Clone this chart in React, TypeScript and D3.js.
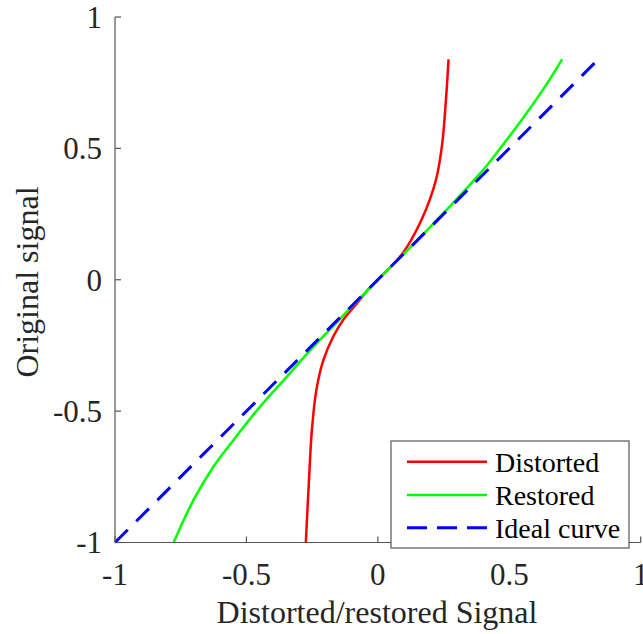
import React from "react";
import * as d3 from "d3";

// Original signal values (vertical axis) and the distorted response at each
const distortedX = [-0.274, -0.262, -0.251, -0.234, -0.207, -0.170, -0.132, -0.084, -0.042, 0, 0.040, 0.060, 0.094, 0.126, 0.160, 0.196, 0.224, 0.245, 0.259, 0.269];
const distortedY = [-1.0, -0.762, -0.572, -0.420, -0.305, -0.217, -0.153, -0.095, -0.043, 0, 0.040, 0.060, 0.100, 0.150, 0.215, 0.300, 0.392, 0.519, 0.684, 0.839];

// Restored signal after correction
const restoredX = [-0.777, -0.701, -0.625, -0.549, -0.448, -0.346, -0.256, -0.160, -0.062, 0, 0.060, 0.150, 0.237, 0.320, 0.401, 0.480, 0.565, 0.636, 0.701];
const restoredY = [-1.0, -0.838, -0.711, -0.610, -0.483, -0.369, -0.267, -0.166, -0.064, 0, 0.060, 0.150, 0.240, 0.329, 0.418, 0.519, 0.633, 0.735, 0.839];

// Ideal (identity) response
const idealX = [-1.0, 0.84];
const idealY = [-1.0, 0.84];

const xTicks = [-1, -0.5, 0, 0.5, 1];
const yTicks = [-1, -0.5, 0, 0.5, 1];
const tickLabels = ["-1", "-0.5", "0", "0.5", "1"];

const seriesNames = ["Distorted", "Restored", "Ideal curve"];
const seriesColors = ["#ff0000", "#00ff00", "#0000ff"];

const FONT = '"Liberation Serif", "Times New Roman", serif';

export default function App() {
  const width = 643;
  const height = 634;
  const x = d3.scaleLinear().domain([-1, 1]).range([115, 640.7]);
  const y = d3.scaleLinear().domain([-1, 1]).range([542.5, 17]);

  const line = d3
    .line<[number, number]>()
    .x((d) => x(d[0]))
    .y((d) => y(d[1]))
    .curve(d3.curveCatmullRom.alpha(0.5));

  const zip = (a: number[], b: number[]) => a.map((v, i) => [v, b[i]] as [number, number]);

  const series = [
    { pts: zip(distortedX, distortedY), dash: undefined as string | undefined, w: 2.5 },
    { pts: zip(restoredX, restoredY), dash: undefined as string | undefined, w: 2.5 },
    { pts: zip(idealX, idealY), dash: "18,12", w: 3 },
  ];

  const axisColor = "#555";
  const tickLen = 6;

  const legend = { x0: 391, y0: 441, x1: 629, y1: 548 };
  const rowYs = [461.7, 495, 527.7];

  return (
    <svg width={width} height={height} style={{ position: "absolute", left: 0, top: 0, background: "#fff" }}>
      <rect x={0} y={0} width={width} height={height} fill="#fff" />
      {series.map((s, i) => (
        <path
          key={i}
          d={line(s.pts) || ""}
          fill="none"
          stroke={seriesColors[i]}
          strokeWidth={s.w}
          strokeDasharray={s.dash}
        />
      ))}

      {/* axes */}
      <line x1={x(-1)} x2={x(1)} y1={y(-1)} y2={y(-1)} stroke={axisColor} strokeWidth={1.2} />
      <line x1={x(-1)} x2={x(-1)} y1={y(-1)} y2={y(1)} stroke={axisColor} strokeWidth={1.2} />
      {xTicks.map((t, i) => (
        <g key={"xt" + i}>
          <line x1={x(t)} x2={x(t)} y1={y(-1)} y2={y(-1) - tickLen} stroke={axisColor} strokeWidth={1.2} />
          <text x={x(t)} y={585} textAnchor="middle" fontFamily={FONT} fontSize={31} fill="#262626">
            {tickLabels[i]}
          </text>
        </g>
      ))}
      {yTicks.map((t, i) => (
        <g key={"yt" + i}>
          <line x1={x(-1)} x2={x(-1) + tickLen} y1={y(t)} y2={y(t)} stroke={axisColor} strokeWidth={1.2} />
          <text x={102} y={y(t)} dy="0.35em" textAnchor="end" fontFamily={FONT} fontSize={31} fill="#262626">
            {tickLabels[i]}
          </text>
        </g>
      ))}

      <text x={377} y={623} textAnchor="middle" fontFamily={FONT} fontSize={32} fill="#262626">
        Distorted/restored Signal
      </text>
      <text
        transform={`translate(38, 282) rotate(-90)`}
        textAnchor="middle"
        fontFamily={FONT}
        fontSize={32}
        fill="#262626"
      >
        Original signal
      </text>

      {/* legend */}
      <rect
        x={legend.x0}
        y={legend.y0}
        width={legend.x1 - legend.x0}
        height={legend.y1 - legend.y0}
        fill="#fff"
        stroke={axisColor}
        strokeWidth={1.2}
      />
      {seriesNames.map((n, i) => (
        <g key={"lg" + i}>
          <line
            x1={407}
            x2={487}
            y1={rowYs[i]}
            y2={rowYs[i]}
            stroke={seriesColors[i]}
            strokeWidth={series[i].w}
            strokeDasharray={i === 2 ? "20,10" : undefined}
          />
          <text x={495} y={rowYs[i]} dy="0.35em" fontFamily={FONT} fontSize={28} fill="#000">
            {n}
          </text>
        </g>
      ))}
    </svg>
  );
}
